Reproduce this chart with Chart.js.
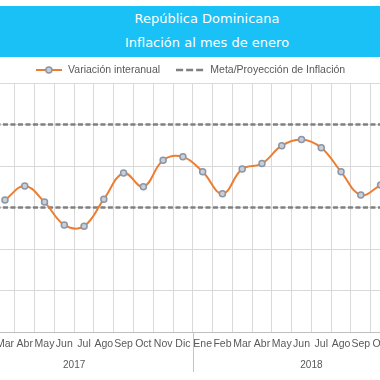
<!DOCTYPE html>
<html>
<head>
<meta charset="utf-8">
<script src="https://cdn.jsdelivr.net/npm/chart.js@4.4.1/dist/chart.umd.min.js"></script>
<style>
  html, body { margin: 0; padding: 0; background: #ffffff; }
  body { width: 380px; height: 380px; overflow: hidden; position: relative; }
  #band {
    position: absolute; left: 0; top: 6px; width: 380px; height: 51px;
    box-sizing: border-box; padding-left: 34px; padding-top: 1px;
    background: #19c1f6; color: #ffffff; text-align: center;
    font-family: "DejaVu Sans", sans-serif; font-size: 13px; line-height: 24px;
  }
  #wrap { position: absolute; left: -50px; top: 0; width: 500px; height: 380px; }
</style>
</head>
<body>
<div id="band"><div>República Dominicana</div><div>Inflación al mes de enero</div></div>
<div id="wrap"><canvas id="c" width="500" height="380"></canvas></div>
<script>
// ---- data ----
const months = ['Ene','Feb','Mar','Abr','May','Jun','Jul','Ago','Sep','Oct','Nov','Dic',
                'Ene','Feb','Mar','Abr','May','Jun','Jul','Ago','Sep','Oct','Nov','Dic'];
const years = ['2017', '2018'];
const variacionInteranual = [null, null, 3.18, 3.52, 3.13, 2.58, 2.55, 3.20, 3.83, 3.50, 4.14, 4.22,
                             3.86, 3.33, 3.93, 4.06, 4.49, 4.64, 4.44, 3.86, 3.30, 3.54, null, null];
const metaSuperior = [5,5,5,5,5,5,5,5,5,5,5,5, 5,5,5,5,5,5,5,5,5,5,5,5];
const metaInferior = [3,3,3,3,3,3,3,3,3,3,3,3, 3,3,3,3,3,3,3,3,3,3,3,3];
const seriesNames = ['Variación interanual', 'Meta/Proyección de Inflación'];

// legend symbols
function makeLineMarker() {
  const cv = document.createElement('canvas'); cv.width = 26; cv.height = 10;
  const g = cv.getContext('2d');
  g.strokeStyle = '#ED7D31'; g.lineWidth = 2;
  g.beginPath(); g.moveTo(0, 5); g.lineTo(26, 5); g.stroke();
  g.fillStyle = '#C9CFD8'; g.strokeStyle = '#8A96A6'; g.lineWidth = 1.5;
  g.beginPath(); g.arc(13, 5, 3, 0, Math.PI * 2); g.fill(); g.stroke();
  return cv;
}
function makeDashMarker() {
  const cv = document.createElement('canvas'); cv.width = 30; cv.height = 10;
  const g = cv.getContext('2d');
  g.strokeStyle = '#808080'; g.lineWidth = 2.5; g.setLineDash([7, 3]);
  g.beginPath(); g.moveTo(0, 5); g.lineTo(30, 5); g.stroke();
  return cv;
}
const legendIcons = [makeLineMarker(), makeDashMarker()];

const yearPlugin = {
  id: 'yearGroups',
  afterDraw(chart) {
    const ctx = chart.ctx, xs = chart.scales.x, area = chart.chartArea;
    const half = (xs.getPixelForValue(1) - xs.getPixelForValue(0)) / 2;
    ctx.save();
    ctx.strokeStyle = '#C4C4C4'; ctx.lineWidth = 1;
    ctx.fillStyle = '#595959';
    ctx.font = '10px "Liberation Sans", Arial, sans-serif';
    ctx.textAlign = 'center'; ctx.textBaseline = 'middle';
    years.forEach((yr, g) => {
      const first = g * 12, last = g * 12 + 11;
      const x0 = xs.getPixelForValue(first) - half;
      const x1 = xs.getPixelForValue(last) + half;
      [x0, x1].forEach(x => {
        const px = Math.round(x) + 0.5;
        ctx.beginPath(); ctx.moveTo(px, area.bottom); ctx.lineTo(px, area.bottom + 40); ctx.stroke();
      });
      ctx.fillText(yr, (x0 + x1) / 2, area.bottom + 33);
    });
    ctx.restore();
  }
};

new Chart(document.getElementById('c'), {
  type: 'line',
  data: {
    labels: months,
    datasets: [
      {
        label: seriesNames[0], data: variacionInteranual,
        borderColor: '#ED7D31', borderWidth: 2, tension: 0.4,
        pointRadius: 3, pointBorderWidth: 1.5,
        pointBackgroundColor: '#C9CFD8', pointBorderColor: '#8A96A6',
        fill: false, spanGaps: false
      },
      {
        label: seriesNames[1], data: metaSuperior,
        borderColor: '#808080', borderWidth: 2.5, borderDash: [5, 2.5],
        pointRadius: 0, fill: false
      },
      {
        label: '', data: metaInferior,
        borderColor: '#808080', borderWidth: 2.5, borderDash: [5, 2.5],
        pointRadius: 0, fill: false
      }
    ]
  },
  options: {
    responsive: false, animation: false, devicePixelRatio: 1,
    layout: { padding: { top: 47.75, left: 0, right: 20, bottom: 23.4 } },
    plugins: {
      title: { display: false },
      tooltip: { enabled: false },
      legend: {
        display: true, position: 'top', align: 'center', maxHeight: 35.25,
        labels: {
          usePointStyle: true, pointStyleWidth: 28, padding: 17,
          color: '#595959',
          font: { family: '"Liberation Sans", Arial, sans-serif', size: 10.5 },
          generateLabels(chart) {
            const items = Chart.defaults.plugins.legend.labels.generateLabels(chart);
            items.forEach((it, i) => { if (legendIcons[i]) it.pointStyle = legendIcons[i]; });
            return items.filter(it => it.datasetIndex < 2);
          }
        }
      }
    },
    scales: {
      x: {
        type: 'category', offset: true,
        grid: { display: true, offset: true, color: '#D9D9D9', lineWidth: 1, drawTicks: false },
        border: { display: true, color: '#BFBFBF', width: 1 },
        ticks: {
          autoSkip: false, maxRotation: 0, minRotation: 0, padding: 6,
          color: '#595959',
          font: { family: '"Liberation Sans", Arial, sans-serif', size: 10.5 }
        }
      },
      y: {
        min: 0, max: 6,
        grid: { color: '#D9D9D9', lineWidth: 1, drawTicks: false },
        border: { display: false },
        ticks: { display: false, stepSize: 1 }
      }
    }
  },
  plugins: [yearPlugin]
});
</script>
</body>
</html>
